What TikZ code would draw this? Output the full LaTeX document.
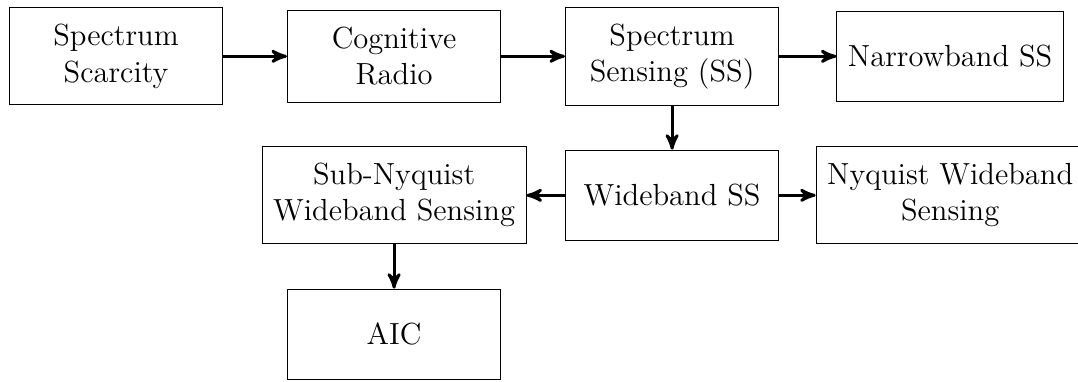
\documentclass[tikz,border=0pt]{standalone}
\usepackage{tikz}
\usetikzlibrary{arrows,positioning}
\tikzset{
    %Define standard arrow tip
    >=stealth',
    %Define style for boxes
    block/.style={
           rectangle,
           draw=black,
           minimum width=3.07cm,
           minimum height=1.3cm,
           inner xsep=4.5pt,
           inner ysep=6.8pt,
           font=\fontsize{12.5}{14.8}\selectfont,
           align=center},
    % Define arrow style
    arrow/.style={
           ->,
           very thick},
}
\begin{document}
\begin{tikzpicture}[on grid, node distance=2cm and 4cm]
\useasboundingbox (-1.67,0.81) rectangle (13.84,-4.68);
\node[block]                      (scarcity) {Spectrum\\Scarcity};
\node[block, right=of scarcity]   (cr)       {Cognitive\\Radio};
\node[block, right=of cr]         (ss)       {Spectrum\\Sensing (SS)};
\node[block, right=of ss]         (nbss)     {Narrowband SS};
\node[block, below=of ss]         (wbss)     {Wideband SS};
\node[block, left=of wbss]        (subnyq)   {Sub-Nyquist\\Wideband Sensing};
\node[block, right=of wbss]       (nyq)      {Nyquist Wideband\\Sensing};
\node[block, below=of subnyq]     (aic)      {AIC};
\draw[arrow] (scarcity) -- (cr);
\draw[arrow] (cr) -- (ss);
\draw[arrow] (ss) -- (nbss);
\draw[arrow] (ss) -- (wbss);
\draw[arrow] (wbss) -- (subnyq);
\draw[arrow] (wbss) -- (nyq);
\draw[arrow] (subnyq) -- (aic);
\end{tikzpicture}
\end{document}
